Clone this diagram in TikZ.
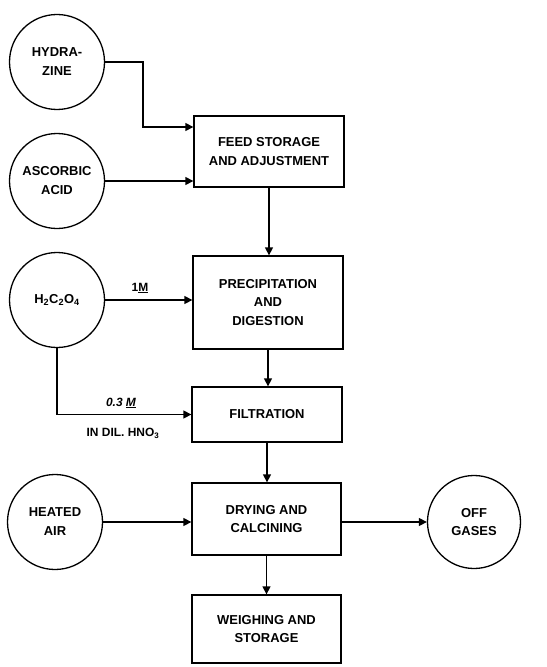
\documentclass[tikz,border=0pt]{standalone}
\usepackage{fontspec}
\setmainfont{Liberation Sans}
\usetikzlibrary{arrows.meta,calc}
\begin{document}
\begin{tikzpicture}[x=1bp,y=-1bp,
  every node/.style={font=\fontsize{13}{19}\selectfont\bfseries, align=center, inner sep=0pt},
  src/.style={draw, circle, line width=1.3bp, minimum size=95bp},
  proc/.style={draw, rectangle, line width=1.3bp},
  arr/.style={line width=1.3bp, -{Triangle[length=8bp,width=8bp]}},
  lbl/.style={font=\fontsize{12}{14}\selectfont\bfseries}
]
\useasboundingbox (0,0) rectangle (547,667);
% sources
\node[src] (hyd) at (57,62) {HYDRA-\\ZINE};
\node[src] (asc) at (57,181) {ASCORBIC\\ACID};
\node[src] (oxa) at (57,300) {H$_\mathbf{2}$C$_\mathbf{2}$O$_\mathbf{4}$};
\node[src] (air) at (55,522) {HEATED\\AIR};
\node[src, minimum size=93bp] (off) at (474,522) {OFF\\GASES};
% process boxes
\node[proc, minimum width=150bp, minimum height=71bp] (feed) at (269,151.5) {FEED STORAGE\\AND ADJUSTMENT};
\node[proc, minimum width=150bp, minimum height=93bp] (prec) at (268,302.5) {PRECIPITATION\\AND\\DIGESTION};
\node[proc, minimum width=150bp, minimum height=55bp] (filt) at (267,414.5) {FILTRATION};
\node[proc, minimum width=149bp, minimum height=72bp] (dry) at (266.5,519) {DRYING AND\\CALCINING};
\node[proc, minimum width=149bp, minimum height=68bp] (weigh) at (266.5,629) {WEIGHING AND\\STORAGE};
% connectors
\coordinate (hk) at (143,127);
\draw[arr] (hyd.east) -| (hk) -- (hk -| feed.west);
\draw[arr] (asc.east) -- (asc.east -| feed.west);
\draw[arr] (feed.south) -- (feed.south |- prec.north);
\draw[arr] (oxa.east) -- (oxa.east -| prec.west);
\draw[arr] (oxa.south) |- (filt.west);
\draw[arr] (prec.south) -- (prec.south |- filt.north);
\draw[arr] (filt.south) -- (filt.south |- dry.north);
\draw[arr] (air.east) -- (air.east -| dry.west);
\draw[arr] (dry.east |- off.west) -- (off.west);
\draw[arr] (dry.south) -- (dry.south |- weigh.north);
% labels
\node[lbl] (l1) at (140,288) {1\underline{M}};
\node[lbl] (l2) at (121,403) {\itshape 0.3 \underline{M}};
\node[lbl] (l3) at (123,433) {IN DIL. HNO$_\mathbf{3}$};
\end{tikzpicture}
\end{document}
